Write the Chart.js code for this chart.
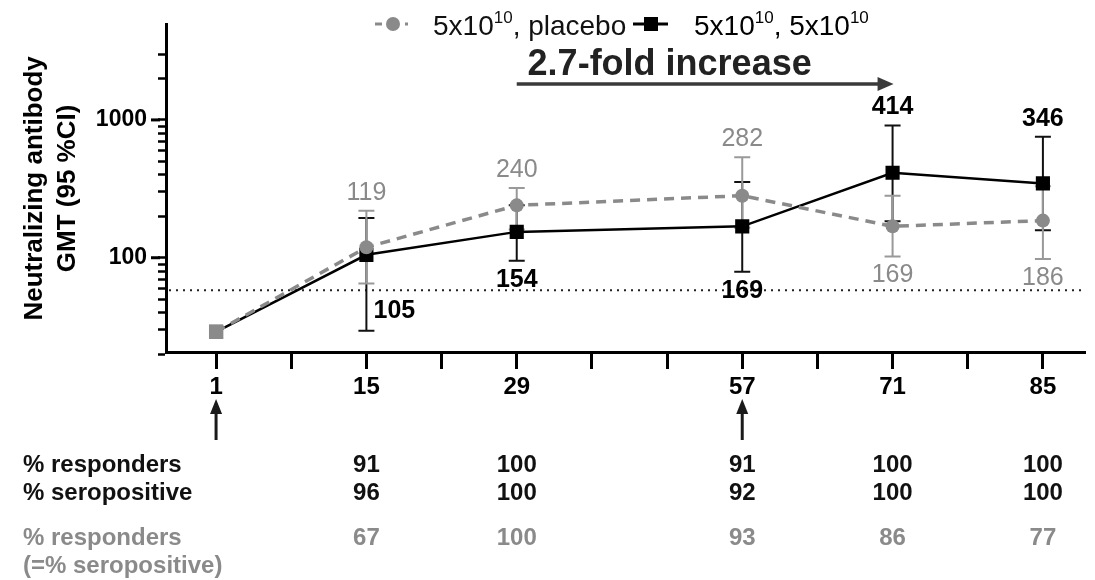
<!DOCTYPE html>
<html>
<head>
<meta charset="utf-8">
<script src="https://cdn.jsdelivr.net/npm/chart.js@4.4.1/dist/chart.umd.min.js"></script>
<style>
  html, body { margin: 0; padding: 0; background: #fff; }
</style>
</head>
<body>
<canvas id="gmt" width="1095" height="580"></canvas>
<script>
// study days and where they sit on the axis (ticks every 7 days, 43 -> 57 squeezed)
const days = [1, 15, 29, 57, 71, 85];
const dayPos = [0, 2, 4, 7, 9, 11];
const tickPos = [0, 1, 2, 3, 4, 5, 6, 7, 8, 9, 10, 11];

// 5x10^10, placebo
const placeboGMT  = [29, 119, 240, 282, 169, 186];
const placeboLow  = [null, 65, 160, 165, 102, 98];
const placeboHigh = [null, 219, 321, 535, 282, 330];
// 5x10^10, 5x10^10
const boostGMT  = [29, 105, 154, 169, 414, 346];
const boostLow  = [null, 29.5, 95, 79, 184, 158];
const boostHigh = [null, 194, 240, 355, 910, 756];

const yTicks = [20, 30, 40, 50, 60, 70, 80, 90, 100, 200, 300, 400, 500, 600, 700, 800, 900, 1000, 2000, 3000];
const yLabels = [100, 1000];
const lloq = 58;

const boostResponders   = [null, 91, 100, 91, 100, 100];
const boostSeropositive = [null, 96, 100, 92, 100, 100];
const placeboResponders = [null, 67, 100, 93, 86, 77];
const dosingDays = [1, 57];
const foldFrom = 29, foldTo = 71;

const FONT = "'Liberation Sans', Arial, sans-serif";
const GREY = '#8a8a8a';

function pts(vals) {
  return vals.map((v, i) => ({ x: dayPos[i], y: v }));
}
function posOf(day) { return dayPos[days.indexOf(day)]; }

// label placement for value texts
const placeboPlace = ['', 'above', 'above', 'above', 'below', 'below'];
const boostPlace   = ['', 'right', 'below', 'below', 'above', 'above'];

function drawBars(chart, lows, highs, color, width) {
  const { ctx, scales: { x, y } } = chart;
  ctx.save();
  ctx.strokeStyle = color;
  ctx.lineWidth = width;
  for (let i = 0; i < lows.length; i++) {
    if (lows[i] == null) continue;
    const px = x.getPixelForValue(dayPos[i]);
    const lo = y.getPixelForValue(lows[i]);
    const hi = y.getPixelForValue(highs[i]);
    ctx.beginPath();
    ctx.moveTo(px, lo); ctx.lineTo(px, hi);
    ctx.moveTo(px - 8, lo); ctx.lineTo(px + 8, lo);
    ctx.moveTo(px - 8, hi); ctx.lineTo(px + 8, hi);
    ctx.stroke();
  }
  ctx.restore();
}

function drawValues(chart, vals, lows, highs, place, color, weight) {
  const { ctx, scales: { x, y } } = chart;
  ctx.save();
  ctx.fillStyle = color;
  ctx.font = weight + ' 25px ' + FONT;
  ctx.textAlign = 'center';
  ctx.textBaseline = 'middle';
  for (let i = 0; i < vals.length; i++) {
    if (!place[i]) continue;
    let px = x.getPixelForValue(dayPos[i]);
    let py;
    if (place[i] === 'above') py = y.getPixelForValue(highs[i]) - 18;
    else if (place[i] === 'below') py = y.getPixelForValue(lows[i]) + 19;
    else { px += 28; py = y.getPixelForValue(lows[i]) - 20; }
    ctx.fillText(String(vals[i]), px, py);
  }
  ctx.restore();
}

function supText(ctx, parts, x, y) {
  // parts: [text, isSup]
  for (const [t, sup] of parts) {
    ctx.font = (sup ? '17px ' : '28px ') + FONT;
    ctx.fillText(t, x, sup ? y - 12 : y);
    x += ctx.measureText(t).width;
  }
  return x;
}

function upArrow(ctx, x, yTip, yTail) {
  ctx.beginPath();
  ctx.moveTo(x, yTail); ctx.lineTo(x, yTip + 10);
  ctx.stroke();
  ctx.beginPath();
  ctx.moveTo(x, yTip); ctx.lineTo(x - 6, yTip + 15); ctx.lineTo(x + 6, yTip + 15);
  ctx.closePath(); ctx.fill();
}

const extras = {
  id: 'extras',
  beforeDatasetsDraw(chart) {
    const { ctx, chartArea, scales: { y } } = chart;
    ctx.save();
    ctx.setLineDash([2, 5]);
    ctx.lineWidth = 2;
    ctx.strokeStyle = '#222';
    const ly = y.getPixelForValue(lloq);
    ctx.beginPath();
    ctx.moveTo(chartArea.left + 3, ly); ctx.lineTo(chartArea.right, ly);
    ctx.stroke();
    ctx.restore();
    drawBars(chart, boostLow, boostHigh, '#111', 2);
    drawBars(chart, placeboLow, placeboHigh, '#999', 2);
  },
  afterDatasetsDraw(chart) {
    drawValues(chart, placeboGMT, placeboLow, placeboHigh, placeboPlace, GREY, 'normal');
    drawValues(chart, boostGMT, boostLow, boostHigh, boostPlace, '#000', 'bold');
  },
  afterDraw(chart) {
    const { ctx, chartArea, scales: { x, y } } = chart;
    ctx.save();
    // longer major ticks on y
    ctx.strokeStyle = '#000';
    ctx.lineWidth = 3;
    for (const v of yLabels) {
      const py = y.getPixelForValue(v);
      ctx.beginPath();
      ctx.moveTo(chartArea.left - 15, py); ctx.lineTo(chartArea.left - 6, py);
      ctx.stroke();
    }

    // fold-increase arrow
    const ax0 = x.getPixelForValue(posOf(foldFrom));
    const ax1 = x.getPixelForValue(posOf(foldTo));
    const ay = 84;
    ctx.strokeStyle = '#3a3a3a';
    ctx.fillStyle = '#3a3a3a';
    ctx.lineWidth = 3.5;
    ctx.beginPath();
    ctx.moveTo(ax0, ay); ctx.lineTo(ax1 - 12, ay);
    ctx.stroke();
    ctx.beginPath();
    ctx.moveTo(ax1 + 1, ay); ctx.lineTo(ax1 - 15, ay - 7); ctx.lineTo(ax1 - 15, ay + 7);
    ctx.closePath(); ctx.fill();
    ctx.fillStyle = '#222';
    ctx.font = 'bold 36px ' + FONT;
    ctx.textAlign = 'center';
    ctx.textBaseline = 'alphabetic';
    ctx.fillText('2.7-fold increase', (ax0 + ax1) / 2 - 35, 75);

    // legend
    ctx.textAlign = 'left';
    ctx.fillStyle = GREY;
    ctx.strokeStyle = GREY;
    ctx.lineWidth = 3;
    const ly = 24;
    ctx.beginPath(); ctx.moveTo(375, ly); ctx.lineTo(382, ly); ctx.stroke();
    ctx.beginPath(); ctx.arc(393, ly, 7, 0, Math.PI * 2); ctx.fill();
    ctx.beginPath(); ctx.moveTo(405, ly); ctx.lineTo(408, ly); ctx.stroke();
    ctx.fillStyle = '#111';
    supText(ctx, [['5x10', false], ['10', true], [', placebo', false]], 433, 35);
    ctx.fillStyle = '#000';
    ctx.strokeStyle = '#000';
    ctx.beginPath(); ctx.moveTo(633, ly); ctx.lineTo(668, ly); ctx.stroke();
    ctx.fillRect(644, ly - 7, 14, 14);
    supText(ctx, [['5x10', false], ['10', true], [', 5x10', false], ['10', true]], 694, 35);

    // dosing arrows
    ctx.strokeStyle = '#1a1a1a';
    ctx.fillStyle = '#1a1a1a';
    ctx.lineWidth = 3;
    for (const d of dosingDays) upArrow(ctx, x.getPixelForValue(posOf(d)), 399, 440);

    // table under the axis
    ctx.textBaseline = 'middle';
    ctx.font = 'bold 24px ' + FONT;
    ctx.textAlign = 'left';
    ctx.fillStyle = '#111';
    ctx.fillText('% responders', 23, 465);
    ctx.fillText('% seropositive', 23, 493);
    ctx.fillStyle = GREY;
    ctx.fillText('% responders', 23, 538);
    ctx.fillText('(=% seropositive)', 23, 566);
    ctx.textAlign = 'center';
    for (let i = 0; i < days.length; i++) {
      const px = x.getPixelForValue(dayPos[i]);
      ctx.fillStyle = '#111';
      if (boostResponders[i] != null) ctx.fillText(String(boostResponders[i]), px, 465);
      if (boostSeropositive[i] != null) ctx.fillText(String(boostSeropositive[i]), px, 493);
      ctx.fillStyle = GREY;
      if (placeboResponders[i] != null) ctx.fillText(String(placeboResponders[i]), px, 538);
    }
    ctx.restore();
  }
};

new Chart(document.getElementById('gmt'), {
  type: 'line',
  data: {
    datasets: [{
      label: '5x10^10, placebo',
      data: pts(placeboGMT),
      borderColor: GREY,
      backgroundColor: GREY,
      borderWidth: 3.5,
      borderDash: [10, 7],
      pointStyle: ['rect', 'circle', 'circle', 'circle', 'circle', 'circle'],
      pointRadius: [10, 7, 7, 7, 7, 7],
      pointBorderWidth: 0,
      tension: 0
    }, {
      label: '5x10^10, 5x10^10',
      data: pts(boostGMT),
      borderColor: '#000',
      backgroundColor: '#000',
      borderWidth: 2.5,
      pointStyle: 'rect',
      pointRadius: 10,
      pointBorderWidth: 0,
      tension: 0
    }]
  },
  options: {
    responsive: false,
    animation: false,
    devicePixelRatio: 1,
    layout: { padding: { top: 12, left: 0, right: 0, bottom: 0 } },
    plugins: { legend: { display: false }, tooltip: { enabled: false } },
    scales: {
      x: {
        type: 'linear',
        min: -0.666,
        max: 11.56,
        afterBuildTicks: s => { s.ticks = tickPos.map(v => ({ value: v })); },
        afterFit: s => { s.height = 228; },
        border: { color: '#000', width: 3 },
        grid: { drawOnChartArea: false, drawTicks: true, tickLength: 17, tickWidth: 3, tickColor: '#000' },
        ticks: {
          autoSkip: false,
          maxRotation: 0,
          padding: 4,
          color: '#000',
          font: { family: FONT, size: 24, weight: 'bold' },
          callback: v => {
            const i = dayPos.indexOf(v);
            return i >= 0 ? String(days[i]) : '';
          }
        }
      },
      y: {
        type: 'logarithmic',
        min: 20.7,
        max: 4900,
        afterBuildTicks: s => { s.ticks = yTicks.map(v => ({ value: v })); },
        afterFit: s => { s.width = 166; },
        border: { color: '#000', width: 3 },
        grid: { drawOnChartArea: false, drawTicks: true, tickLength: 8, tickWidth: 2.5, tickColor: '#000' },
        ticks: {
          autoSkip: false,
          padding: 11,
          color: '#000',
          font: { family: FONT, size: 23, weight: 'bold' },
          callback: v => (yLabels.includes(v) ? String(v) : '')
        },
        title: {
          display: true,
          text: ['Neutralizing antibody', 'GMT (95 %CI)'],
          color: '#000',
          font: { family: FONT, size: 26, weight: 'bold', lineHeight: 1.27 },
          padding: { top: 18, bottom: 0 }
        }
      }
    }
  },
  plugins: [extras]
});
</script>
</body>
</html>
